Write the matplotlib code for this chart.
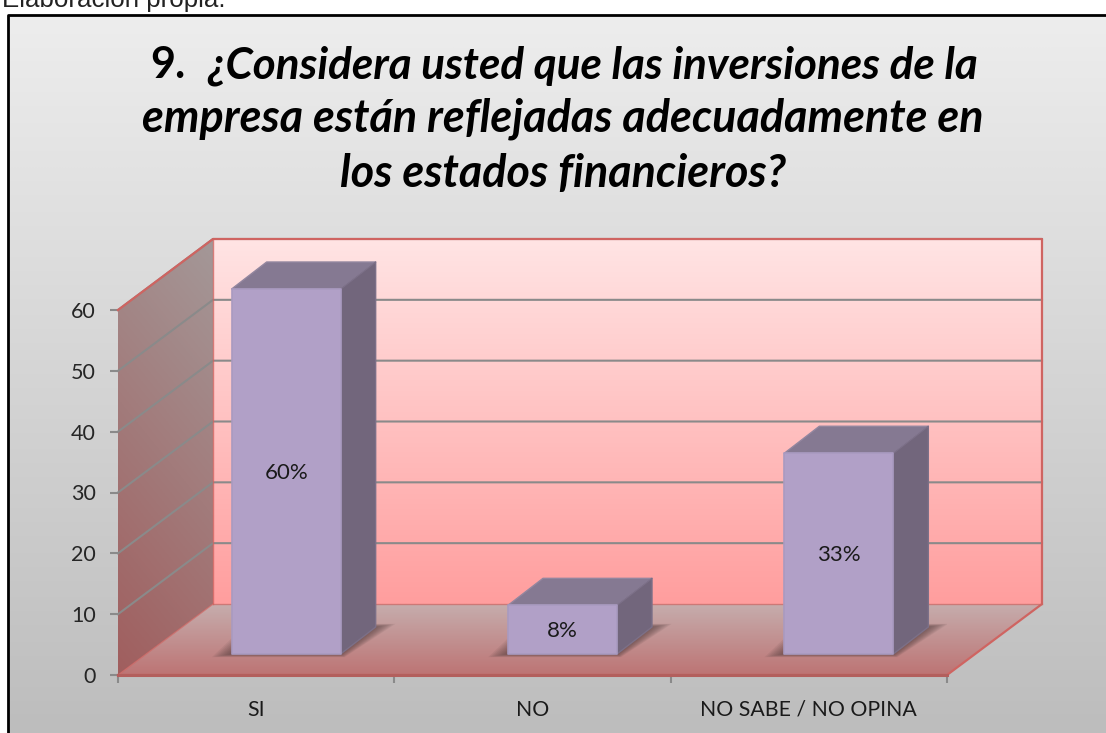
import matplotlib
matplotlib.use('Agg')
import matplotlib.pyplot as plt
import numpy as np
from matplotlib.colors import LinearSegmentedColormap
from matplotlib.patches import Polygon

categories = ['SI', 'NO', 'NO SABE / NO OPINA']
values = [60, 8, 33]
labels = ['60%', '8%', '33%']
yticks = [0, 10, 20, 30, 40, 50, 60]
title_number = '9.'
title_lines = ['¿Considera usted que las inversiones de la',
               'empresa están reflejadas adecuadamente en',
               'los estados financieros?']

FONT = ['Lato', 'DejaVu Sans']
W, H = 1106, 733

# pixel geometry of the fake 3d box
LEFT, RIGHT, BASE, TOP = 118, 947, 675, 310
UX = (RIGHT - LEFT) / 3
UY = (BASE - TOP) / 60
DEPTH_X = 95 / UX
DEPTH_Y = 71 / UY
BAR_W = 109 / UX
BAR_DX = 35 / UX
BAR_DY = 27 / UY
FLOOR_X = 30 / UX
FLOOR_Y = 21 / UY


def gradient(ax, pts, c0, c1, zorder, angle=90):
    # linear gradient clipped to a polygon, angle 90 = c0 on top, c1 at bottom
    pts = np.array(pts)
    n = 200
    xx, yy = np.meshgrid(np.linspace(0, 1, n), np.linspace(0, 1, n))
    a = np.deg2rad(angle)
    g = xx * np.cos(a) + (1 - yy) * np.sin(a)
    g = (g - g.min()) / (g.max() - g.min())
    cmap = LinearSegmentedColormap.from_list('g', [c1, c0])
    ext = (pts[:, 0].min(), pts[:, 0].max(), pts[:, 1].min(), pts[:, 1].max())
    im = ax.imshow(g, extent=ext, origin='upper', cmap=cmap, aspect='auto',
                   zorder=zorder, interpolation='bilinear')
    patch = Polygon(pts, closed=True, transform=ax.transData, fc='none', ec='none')
    ax.add_patch(patch)
    patch.set_clip_on(False)
    # image must be allowed outside the axes box, polygon does the clipping
    im.set_clip_box(ax.figure.bbox)
    im.set_clip_path(patch)


fig = plt.figure(figsize=(W / 100, H / 100), dpi=100, facecolor='white')

# background, frame and title in pixel coords
bg = fig.add_axes([0, 0, 1, 1])
bg.axis('off')
# y axis is flipped here, so the colours go bottom to top
gradient(bg, [(9, 15), (W, 15), (W, H), (9, H)], '#bdbdbd', '#ededed', 1)
bg.set_xlim(0, W)
bg.set_ylim(H, 0)
bg.plot([8, 8, W], [H, 14.5, 14.5], color='black', lw=2, zorder=2)
bg.text(2, 7, 'Elaboración propia.', fontsize=18.6, family='Liberation Sans',
        color='#222222', ha='left', va='baseline')
bg.text(150, 78, title_number, fontsize=31, family=FONT, weight='bold',
        color='black', ha='left', va='baseline', zorder=3)
bg.text(978, 78, title_lines[0], fontsize=31.7, family=FONT, weight='bold', style='italic',
        color='black', ha='right', va='baseline', zorder=3)
for line, y in zip(title_lines[1:], [132, 187]):
    bg.text(563, y, line, fontsize=32.3, family=FONT, weight='bold', style='italic',
            color='black', ha='center', va='baseline', zorder=3)

# chart
ax = fig.add_axes([LEFT / W, 1 - BASE / H, (RIGHT - LEFT) / W, (BASE - TOP) / H])
ax.patch.set_alpha(0)

wall = [(DEPTH_X, DEPTH_Y), (3 + DEPTH_X, DEPTH_Y), (3 + DEPTH_X, 60 + DEPTH_Y), (DEPTH_X, 60 + DEPTH_Y)]
side = [(0, 0), (DEPTH_X, DEPTH_Y), (DEPTH_X, 60 + DEPTH_Y), (0, 60)]
floor = [(0, 0), (3, 0), (3 + DEPTH_X, DEPTH_Y), (DEPTH_X, DEPTH_Y)]
gradient(ax, wall, '#ffe4e4', '#ff9e9e', 1)
gradient(ax, side, '#a49898', '#a05e5e', 1, angle=75)
gradient(ax, floor, '#c6adad', '#bd7474', 1)

for v in yticks[1:]:
    ax.plot([0, DEPTH_X, 3 + DEPTH_X], [v, v + DEPTH_Y, v + DEPTH_Y], color='#8a8a8a', lw=1.5,
            zorder=2, clip_on=False)

red = '#cf6461'
ax.plot([0, DEPTH_X, 3 + DEPTH_X, 3 + DEPTH_X, 3, 0], [60, 60 + DEPTH_Y, 60 + DEPTH_Y, DEPTH_Y, 0, 0],
        color=red, lw=1.6, zorder=3, clip_on=False)
ax.plot([DEPTH_X, 3 + DEPTH_X], [DEPTH_Y, DEPTH_Y], color=red, lw=1, alpha=.7, zorder=3, clip_on=False)
ax.plot([DEPTH_X, DEPTH_X], [DEPTH_Y, 60 + DEPTH_Y], color=red, lw=1, alpha=.8, zorder=3, clip_on=False)
ax.plot([0, DEPTH_X], [0, DEPTH_Y], color=red, lw=1, alpha=.7, zorder=3, clip_on=False)
ax.plot([0, 3], [0, 0], color='#b35f5d', lw=2.2, zorder=3, clip_on=False)

# bars with soft shadow
for i, (v, lab) in enumerate(zip(values, labels)):
    x0 = i + 0.5 + FLOOR_X - BAR_W / 2
    x1 = x0 + BAR_W
    y0 = FLOOR_Y
    y1 = y0 + v
    for k in range(1, 10):
        e = (22 - 2.2 * k) / UX
        d = (3.5 - 0.35 * k) / UY
        shadow = [(x0 - e, y0 - d), (x1 + e * 0.2, y0 - d),
                  (x1 + BAR_DX + e, y0 + BAR_DY + d), (x0 + BAR_DX - e, y0 + BAR_DY + d)]
        ax.add_patch(Polygon(shadow, fc='#4f3a3a', ec='none', alpha=0.09, zorder=4))
    ax.add_patch(Polygon([(x0, y1), (x1, y1), (x1 + BAR_DX, y1 + BAR_DY), (x0 + BAR_DX, y1 + BAR_DY)],
                         fc='#857992', ec='#93869f', lw=1, joinstyle='round', zorder=5, clip_on=False))
    ax.add_patch(Polygon([(x1, y0), (x1 + BAR_DX, y0 + BAR_DY), (x1 + BAR_DX, y1 + BAR_DY), (x1, y1)],
                         fc='#72667c', ec='#7c7088', lw=1, joinstyle='round', zorder=5, clip_on=False))
    ax.add_patch(Polygon([(x0, y0), (x1, y0), (x1, y1), (x0, y1)],
                         fc='#b1a0c7', ec='#a99ac0', lw=1.2, joinstyle='round', zorder=6, clip_on=False))
    ax.text((x0 + x1) / 2, (y0 + y1) / 2 - 0.25, lab, fontsize=16, family=FONT, color='#1a1a1a',
            ha='center', va='center', zorder=7)

ax.set_xlim(0, 3)
ax.set_ylim(0, 60)
for s in ax.spines.values():
    s.set_visible(False)
ax.set_yticks(yticks)
ax.set_xticks([0, 1, 2, 3])
ax.set_xticklabels([])
ax.set_xticks([0.5, 1.5, 2.5], categories, minor=True)
ax.tick_params(axis='y', length=5.5, width=1.5, color='#8a8a8a', pad=10.5, labelsize=15.5, labelcolor='#262626')
ax.tick_params(axis='x', which='major', length=5.5, width=1.5, color='#8a8a8a')
ax.tick_params(axis='x', which='minor', length=0, pad=18, labelsize=15.3, labelcolor='#1a1a1a')
for t in ax.get_yticklabels() + ax.get_xticklabels(minor=True):
    t.set_fontfamily(FONT)

fig.savefig('out.png', dpi=100)
